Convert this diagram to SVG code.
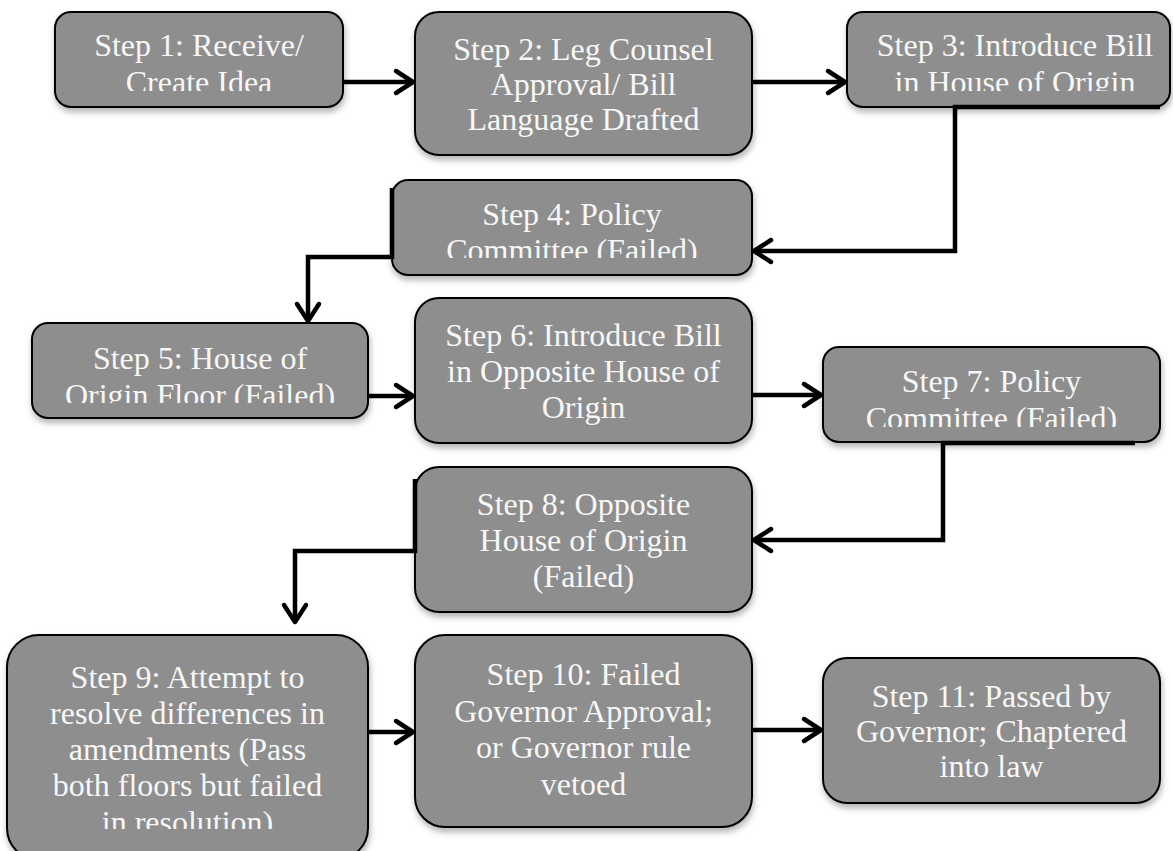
<svg xmlns="http://www.w3.org/2000/svg" width="1173" height="851" viewBox="0 0 1173 851">
<style>
.box{fill:#8e8e8e;stroke:#000;stroke-width:2;filter:url(#sh)}
.t{font-family:"Liberation Serif","Times New Roman",serif;font-size:32px;fill:#f7f7f7;text-anchor:middle}
.c{fill:none;stroke:#000;stroke-width:4.5;stroke-linejoin:miter}
</style>
<defs>
<filter id="sh" x="-10%" y="-10%" width="120%" height="130%">
<feDropShadow dx="1" dy="4" stdDeviation="3" flood-color="#000" flood-opacity="0.3"/>
</filter>
<marker id="arr" viewBox="0 0 30 30" markerWidth="30" markerHeight="30" refX="25" refY="15" orient="auto" markerUnits="userSpaceOnUse">
<path d="M8,4 L25,15 L8,26" fill="none" stroke="#000" stroke-width="4.5" stroke-linecap="round" stroke-linejoin="round"/>
</marker>
<clipPath id="c1"><rect x="55" y="12" width="288" height="79"/></clipPath>
<clipPath id="c3"><rect x="847" y="12" width="326" height="79"/></clipPath>
<clipPath id="c4"><rect x="392" y="180" width="360" height="78"/></clipPath>
<clipPath id="c5"><rect x="32" y="323" width="336" height="80"/></clipPath>
<clipPath id="c7"><rect x="823" y="347" width="337" height="80"/></clipPath>
<clipPath id="c9"><rect x="7" y="635" width="361" height="194"/></clipPath>
</defs>
<rect width="1173" height="851" fill="#fff"/>

<g id="node1">
<rect class="box" x="55" y="12" width="288" height="95" rx="16"/>
<g clip-path="url(#c1)"><text class="t" x="199"><tspan x="199" y="56">Step 1: Receive/</tspan><tspan x="199" y="93">Create Idea</tspan></text></g>
</g>
<g id="node2">
<rect class="box" x="415" y="12" width="337" height="143" rx="24"/>
<text class="t"><tspan x="583.5" y="60">Step 2: Leg Counsel</tspan><tspan x="583.5" y="95">Approval/ Bill</tspan><tspan x="583.5" y="130">Language Drafted</tspan></text>
</g>
<g id="node3">
<rect class="box" x="847" y="12" width="323" height="95" rx="16"/>
<g clip-path="url(#c3)"><text class="t"><tspan x="1015" y="56">Step 3: Introduce Bill</tspan><tspan x="1015" y="93">in House of Origin</tspan></text></g>
</g>
<g id="node4">
<rect class="box" x="392" y="180" width="360" height="95" rx="16"/>
<g clip-path="url(#c4)"><text class="t"><tspan x="572" y="225">Step 4: Policy</tspan><tspan x="572" y="261">Committee (Failed)</tspan></text></g>
</g>
<g id="node5">
<rect class="box" x="32" y="323" width="336" height="95" rx="16"/>
<g clip-path="url(#c5)"><text class="t"><tspan x="200" y="369">Step 5: House of</tspan><tspan x="200" y="406">Origin Floor (Failed)</tspan></text></g>
</g>
<g id="node6">
<rect class="box" x="415" y="298" width="337" height="145" rx="24"/>
<text class="t"><tspan x="583.5" y="346">Step 6: Introduce Bill</tspan><tspan x="583.5" y="382">in Opposite House of</tspan><tspan x="583.5" y="418">Origin</tspan></text>
</g>
<g id="node7">
<rect class="box" x="823" y="347" width="337" height="95" rx="16"/>
<g clip-path="url(#c7)"><text class="t"><tspan x="991.5" y="392">Step 7: Policy</tspan><tspan x="991.5" y="429">Committee (Failed)</tspan></text></g>
</g>
<g id="node8">
<rect class="box" x="415" y="467" width="337" height="145" rx="24"/>
<text class="t"><tspan x="583.5" y="515">Step 8: Opposite</tspan><tspan x="583.5" y="551">House of Origin</tspan><tspan x="583.5" y="587">(Failed)</tspan></text>
</g>
<g id="node9">
<rect class="box" x="7" y="635" width="361" height="225" rx="32"/>
<g clip-path="url(#c9)"><text class="t"><tspan x="187.5" y="688">Step 9: Attempt to</tspan><tspan x="187.5" y="724">resolve differences in</tspan><tspan x="187.5" y="760">amendments (Pass</tspan><tspan x="187.5" y="796">both floors but failed</tspan><tspan x="187.5" y="833">in resolution)</tspan></text></g>
</g>
<g id="node10">
<rect class="box" x="415" y="635" width="337" height="192" rx="30"/>
<text class="t"><tspan x="583.5" y="685">Step 10: Failed</tspan><tspan x="583.5" y="722">Governor Approval;</tspan><tspan x="583.5" y="758">or Governor rule</tspan><tspan x="583.5" y="795">vetoed</tspan></text>
</g>
<g id="node11">
<rect class="box" x="823" y="658" width="337" height="145" rx="24"/>
<text class="t"><tspan x="991.5" y="707">Step 11: Passed by</tspan><tspan x="991.5" y="742">Governor; Chaptered</tspan><tspan x="991.5" y="777">into law</tspan></text>
</g>

<g id="connectors">
<path class="c" d="M343,82 H413" marker-end="url(#arr)"/>
<path class="c" d="M752,82 H845" marker-end="url(#arr)"/>
<path class="c" d="M1160,107 H955 V251 H754" marker-end="url(#arr)"/>
<path class="c" d="M392,188 V257 H308 V321" marker-end="url(#arr)"/>
<path class="c" d="M368,396 H413" marker-end="url(#arr)"/>
<path class="c" d="M752,395 H821" marker-end="url(#arr)"/>
<path class="c" d="M1135,443 H943 V540 H754" marker-end="url(#arr)"/>
<path class="c" d="M415,479 V551 H295 V622" marker-end="url(#arr)"/>
<path class="c" d="M368,732 H413" marker-end="url(#arr)"/>
<path class="c" d="M752,730 H821" marker-end="url(#arr)"/>
</g>
</svg>
